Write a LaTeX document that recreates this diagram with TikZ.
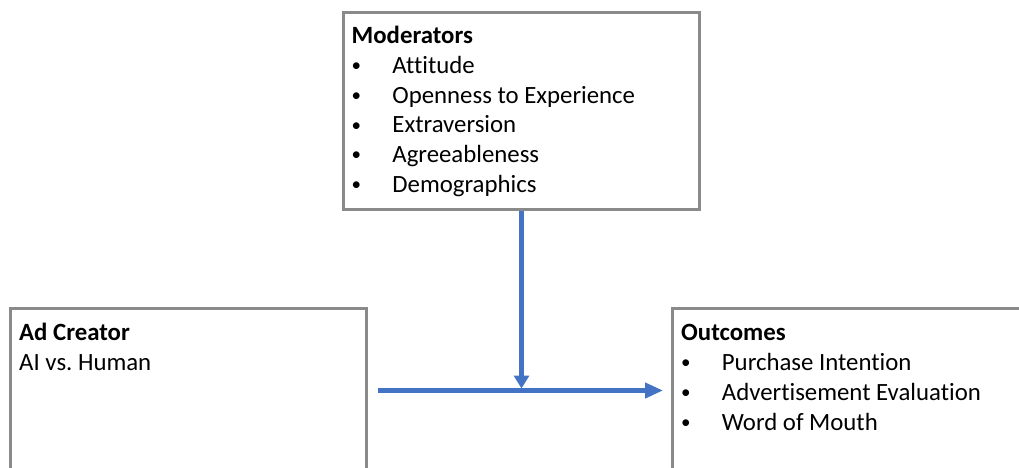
\documentclass[tikz,border=0pt]{standalone}
\usepackage{fontspec}
\setmainfont{Carlito}[Ligatures=NoCommon]
\usetikzlibrary{arrows.meta}
\definecolor{boxgray}{HTML}{8A8A8A}
\definecolor{arrowblue}{HTML}{4472C4}
\newcommand{\itembullet}{\makebox[40.7pt][l]{\raisebox{1.6pt}{\fontsize{19}{19}\selectfont\textbullet}}}
\frenchspacing
\begin{document}
\begin{tikzpicture}[x=1pt,y=-1pt,
  box/.style={draw=boxgray, line width=3pt, rectangle, anchor=north west, inner sep=0pt, fill=white},
  txt/.style={anchor=base west, inner sep=0pt, font=\fontsize{24.8}{30}\selectfont},
  head/.style={txt, font=\fontsize{24.8}{30}\selectfont\bfseries},
  flow/.style={draw=arrowblue, line width=4.2pt}]
\useasboundingbox (0,0) rectangle (1019,468);
\clip (0,0) rectangle (1019,468);

% the three boxes
\node[box, minimum width=356pt, minimum height=197pt] (mod) at (342,11) {};
\node[box, minimum width=356pt, minimum height=164pt] (ad) at (9,307) {};
\node[box, minimum width=356pt, minimum height=164pt] (out) at (671,307) {};

% connectors: moderator arrow onto the main effect arrow
\coordinate (j) at (mod.south |- ad.east);
\draw[flow, -{Triangle[length=13pt,width=15pt]}, shorten >=2pt] (mod.south) -- (j);
\draw[flow, -{Triangle[length=18pt,width=15pt]}, shorten <=10pt, shorten >=8pt] (ad.east) -- (out.west);

% moderators
\node[head] (mh) at (351.5,44) {Moderators};
\foreach \t [count=\i] in {Attitude, Openness to Experience, Extraversion, Agreeableness, Demographics}
  \node[txt] (m\i) at (351.5,{44+29.6*\i}) {\itembullet\t};

% ad creator
\node[head] (ah) at (19,340) {Ad Creator};
\node[txt] (a1) at (19,370.5) {AI vs. Human};

% outcomes
\node[head] (oh) at (681,340) {Outcomes};
\foreach \t [count=\i] in {Purchase Intention, Advertisement Evaluation, Word of Mouth}
  \node[txt] (o\i) at (681,{340+30*\i}) {\itembullet\t};
\end{tikzpicture}
\end{document}
